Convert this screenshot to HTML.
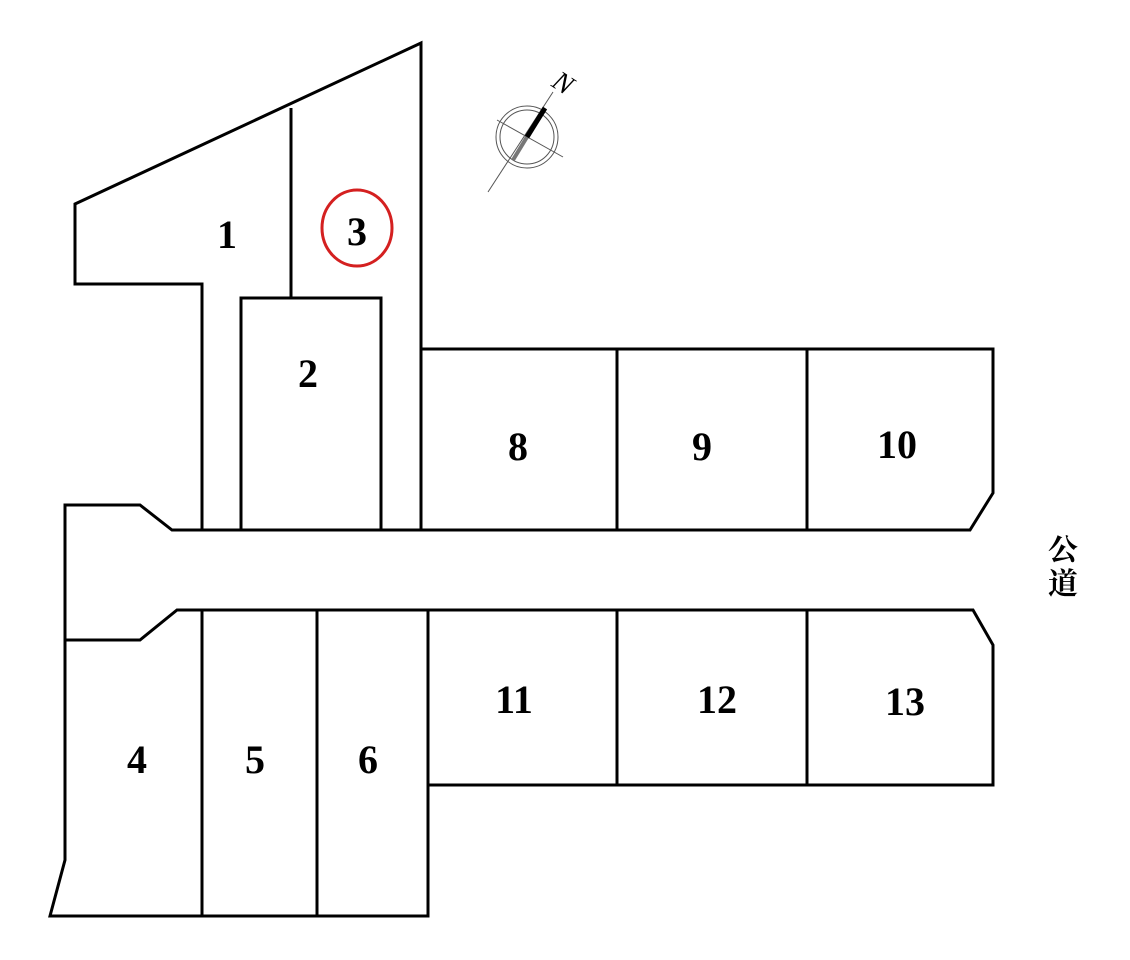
<!DOCTYPE html>
<html><head><style>body{margin:0;background:#fff}svg{display:block}</style></head><body>
<svg width="1130" height="960" viewBox="0 0 1130 960" xmlns="http://www.w3.org/2000/svg">
<g fill="none" stroke="#000" stroke-width="3" stroke-linejoin="miter">
<polyline points="202,529 202,284 75,284 75,204 421,43 421,529"/>
<line x1="291" y1="108" x2="291" y2="298"/>
<polyline points="241,529 241,298 381,298 381,529"/>
<polyline points="65,640 65,505 140,505 172,530 970,530 993,493 993,349 421,349"/>
<line x1="617" y1="349" x2="617" y2="530"/>
<line x1="807" y1="349" x2="807" y2="530"/>
<polygon points="65,640 140,640 177,610 973,610 993,645 993,785 428,785 428,916 50,916 65,860"/>
<line x1="202" y1="610" x2="202" y2="916"/>
<line x1="317" y1="610" x2="317" y2="916"/>
<line x1="428" y1="610" x2="428" y2="785"/>
<line x1="617" y1="610" x2="617" y2="785"/>
<line x1="807" y1="610" x2="807" y2="785"/>
</g>
<ellipse cx="357" cy="228" rx="35" ry="38" fill="none" stroke="#d42020" stroke-width="3"/>
<g stroke="#555" fill="none">
<circle cx="527" cy="137" r="31" stroke-width="1"/>
<circle cx="527" cy="137" r="27" stroke-width="1"/>
<line x1="488" y1="192" x2="553" y2="92" stroke-width="1"/>
<line x1="497" y1="120" x2="563" y2="157" stroke-width="1"/>
<line x1="527" y1="137" x2="513" y2="160" stroke-width="4" stroke="#777"/>
<line x1="527" y1="137" x2="545" y2="108" stroke-width="5" stroke="#000"/>
</g>
<text x="563" y="92" font-family="Liberation Serif,serif" font-style="italic" font-size="28" text-anchor="middle" transform="rotate(33 563 83)">N</text>
<g font-family="Liberation Serif,serif" font-weight="bold" font-size="40" text-anchor="middle">
<text x="227" y="248">1</text>
<text x="357" y="245">3</text>
<text x="308" y="387">2</text>
<text x="518" y="460">8</text>
<text x="702" y="460">9</text>
<text x="897" y="458">10</text>
<text x="514" y="713">11</text>
<text x="717" y="713">12</text>
<text x="905" y="715">13</text>
<text x="137" y="773">4</text>
<text x="255" y="773">5</text>
<text x="368" y="773">6</text>
</g>
<g font-family="'Noto Serif CJK SC','Noto Sans CJK JP',serif" font-weight="bold" font-size="30" text-anchor="middle">
<text x="1063" y="560">公</text>
<text x="1063" y="594">道</text>
</g>
</svg>
</body></html>
